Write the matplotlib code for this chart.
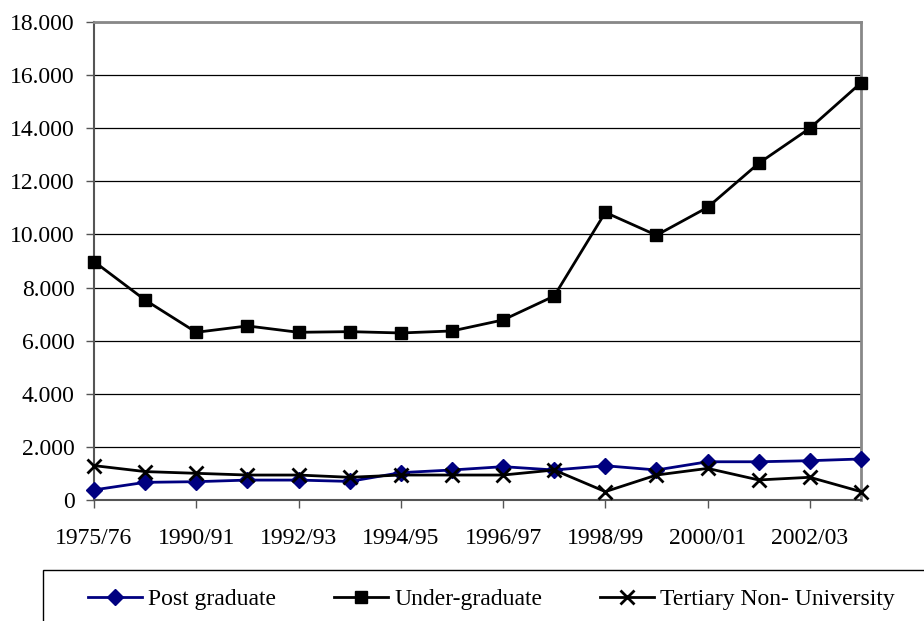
import matplotlib.pyplot as plt
from matplotlib.patches import Rectangle
from matplotlib.ticker import FuncFormatter

years = ['1975/76', '1985/86', '1990/91', '1991/92', '1992/93', '1993/94',
         '1994/95', '1995/96', '1996/97', '1997/98', '1998/99', '1999/00',
         '2000/01', '2001/02', '2002/03', '2003/04']
post_grad = [380, 665, 690, 750, 750, 700, 1030, 1130, 1255, 1130, 1290, 1130,
             1440, 1440, 1480, 1545]
under_grad = [8980, 7530, 6315, 6555, 6315, 6340, 6290, 6365, 6780, 7680,
              10830, 9970, 11020, 12680, 14000, 15710]
tertiary = [1295, 1070, 1005, 940, 940, 855, 940, 940, 940, 1130, 315, 940,
            1190, 755, 855, 315]

plt.rcParams['font.family'] = ['Liberation Serif', 'DejaVu Serif']

fig = plt.figure(figsize=(9.24, 6.21), dpi=100)
ax = fig.add_axes([94/924, 1-500/621, (861-94)/924, (500-22)/621])

x = list(range(len(years)))
ax.plot(x, post_grad, color='#000080', lw=2, marker='D', ms=8,
        label='Post graduate', zorder=3, clip_on=False)
ax.plot(x, under_grad, color='black', lw=2, marker='s', ms=9,
        label='Under-graduate', zorder=3, clip_on=False)
ax.plot(x, tertiary, color='black', lw=2, marker='x', ms=10, mew=2,
        label='Tertiary Non- University', zorder=4, clip_on=False)

ax.set_xlim(0, len(years) - 1)
ax.set_ylim(0, 18000)
ax.set_yticks(range(0, 18001, 2000))
ax.yaxis.set_major_formatter(FuncFormatter(
    lambda v, p: '0' if v == 0 else f'{int(v):,}'.replace(',', '.')))
ax.set_xticks(x[::2])
ax.set_xticklabels(years[::2])

ax.grid(axis='y', color='black', lw=0.9)
ax.set_axisbelow(True)
for s in ['top', 'right']:
    ax.spines[s].set_color('#888888')
    ax.spines[s].set_linewidth(2)
for s in ['left', 'bottom']:
    ax.spines[s].set_color('#555555')
    ax.spines[s].set_linewidth(1.5)

ax.tick_params(axis='y', direction='out', length=6, width=1, pad=8,
               labelsize=17, color='#555555')
ax.tick_params(axis='x', direction='out', length=6, width=1, pad=14,
               labelsize=17, color='#555555')

# legend box runs past the figure edge
fig.patches.append(Rectangle((43/924, -0.2), 1.0, 1-570/621+0.2,
                             transform=fig.transFigure, fill=False,
                             edgecolor='black', lw=1))
fig.legend(loc='center left', bbox_to_anchor=(76/924, 1-599/621),
           ncol=3, frameon=False, fontsize=17, borderpad=0,
           handlelength=2.3, handletextpad=0.25, columnspacing=2.45)

fig.savefig('out.png', dpi=100)
